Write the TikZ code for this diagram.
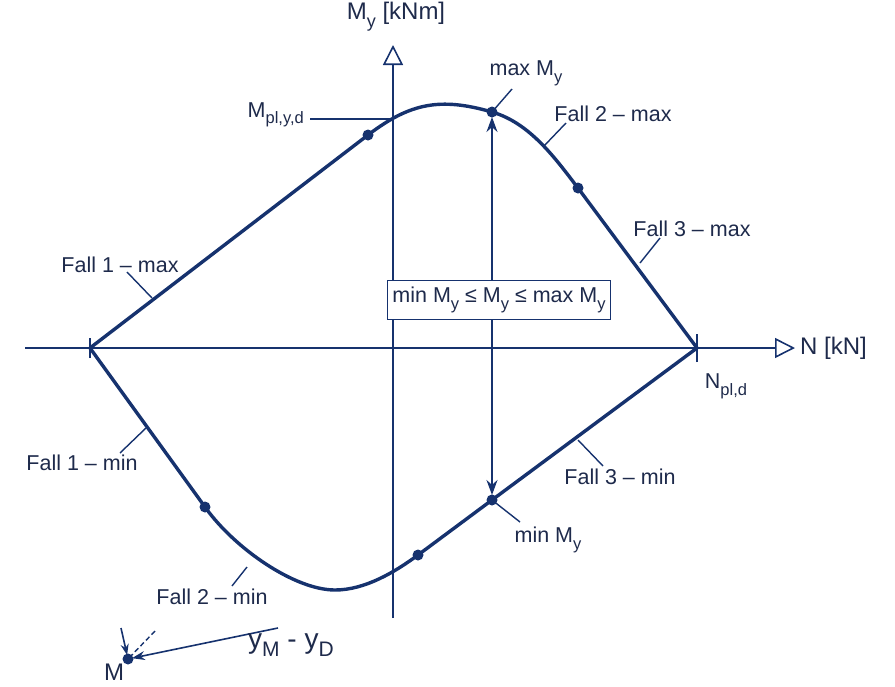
\documentclass[tikz,border=0pt]{standalone}
\usepackage{fontspec}
\setmainfont{Liberation Sans}
\usetikzlibrary{arrows.meta}
\definecolor{navy}{RGB}{22,50,110}
\definecolor{txt}{RGB}{30,42,75}
\newcommand\sbs[1]{\raisebox{-0.3em}{\fontsize{16.5}{16.5}\selectfont #1}}
\newcommand\sba[1]{\raisebox{-0.3em}{\fontsize{18}{18}\selectfont #1}}
\newcommand\sbb[1]{\raisebox{-0.3em}{\fontsize{21}{21}\selectfont #1}}
\begin{document}
\begin{tikzpicture}[x=1pt,y=-1pt,
 lbl/.style={text=txt,font=\fontsize{21.5}{25}\selectfont,inner sep=0pt},
 axlbl/.style={lbl,font=\fontsize{24}{28}\selectfont},
 axis/.style={draw=navy,line width=1.8pt},
 curve/.style={draw=navy,line width=3.4pt,line join=round},
 leader/.style={draw=navy,line width=1.4pt},
 pt/.style={circle,fill=navy,inner sep=0pt,minimum size=11pt},
 opentip/.style={-{Triangle[open,length=20pt,width=20pt,line width=1.6pt]}},
 dtip/.style={{Stealth[length=15pt,width=11pt]}-{Stealth[length=15pt,width=11pt]}},
 ]
\useasboundingbox (0,0) rectangle (895,686);
% key points
\coordinate (L) at (90,348);
\coordinate (R) at (697,348);
\coordinate (c1) at (368,135);
\coordinate (c2) at (492,112);
\coordinate (c3) at (578,188);
\coordinate (c4) at (205,507);
\coordinate (c5) at (418,555);
\coordinate (c6) at (492,500);
% axes
\coordinate (xs) at (25,348);
\coordinate (xe) at (795,348);
\coordinate (ys) at (393,618);
\coordinate (ye) at (393,45);
\draw[axis,opentip] (xs) -- (xe);
\draw[axis,opentip] (ys) -- (ye);
\node[axlbl,anchor=west] (Nlab) at (800,348) {N [kN]};
\node[axlbl,anchor=south] (Mlab) at (396,31) {M\sba{y} [kNm]};
% ticks
\draw[axis] ([yshift=-10pt]L) -- ([yshift=10pt]L);
\draw[axis] ([yshift=-14pt]R) -- ([yshift=14pt]R);
% Mpl line
\coordinate (mp1) at (310,119);
\coordinate (mp2) at (393,119);
\draw[axis,line width=1.5pt] (mp1) -- (mp2);
\node[lbl,anchor=east] (Mpl) at (304,115) {M\sbs{pl,y,d}};
% interaction curve
\draw[curve] (L) -- (c1) .. controls (410,103) and (440,97) .. (c2)
  .. controls (530,123) and (555,158) .. (c3) -- (R) -- (c6) -- (c5)
  .. controls (395,572) and (365,590) .. (335,590)
  .. controls (295,590) and (235,549) .. (c4) -- cycle;
% double arrow
\draw[navy,line width=1.7pt,dtip,shorten <=5pt,shorten >=5pt] (c2) -- (c6);
% box
\node[lbl,draw=navy,fill=white,line width=1.4pt,inner xsep=5pt,inner ysep=7pt] (box) at (499,300)
  {min M\sbs{y} ≤ M\sbs{y} ≤ max M\sbs{y}};
% dots
\foreach \c in {c1,c2,c3,c4,c5,c6} \node[pt] at (\c) {};
% leaders and labels
\coordinate (a1) at (152,298); \coordinate (b1) at (127,272);
\draw[leader] (a1) -- (b1);
\node[lbl,anchor=south] (f1max) at (120,273) {Fall 1 – max};
\coordinate (a2) at (544,146); \coordinate (b2) at (566,123);
\draw[leader] (a2) -- (b2);
\node[lbl,anchor=south] (f2max) at (613,122) {Fall 2 – max};
\coordinate (a3) at (640,263); \coordinate (b3) at (660,238);
\draw[leader] (a3) -- (b3);
\node[lbl,anchor=south] (f3max) at (692,237) {Fall 3 – max};
\coordinate (a4) at (146,428); \coordinate (b4) at (120,453);
\draw[leader] (a4) -- (b4);
\node[lbl,anchor=north] (f1min) at (82,455) {Fall 1 – min};
\coordinate (a5) at (247,567); \coordinate (b5) at (232,586);
\draw[leader] (a5) -- (b5);
\node[lbl,anchor=north] (f2min) at (212,589) {Fall 2 – min};
\coordinate (a6) at (578,440); \coordinate (b6) at (603,466);
\draw[leader] (a6) -- (b6);
\node[lbl,anchor=north] (f3min) at (620,469) {Fall 3 – min};
\coordinate (b7) at (512,89);
\draw[leader] (c2) -- (b7);
\node[lbl,anchor=south] (maxM) at (526,86) {max M\sbs{y}};
\coordinate (b8) at (520,522);
\draw[leader] (c6) -- (b8);
\node[lbl,anchor=north] (minM) at (548,527) {min M\sbs{y}};
\node[lbl,anchor=north] (Npl) at (726,374) {N\sbs{pl,d}};
% bottom-left M point
\coordinate (M) at (128,659);
\coordinate (m1) at (278,628);
\coordinate (m2) at (121,628);
\coordinate (m3) at (155,631);
\draw[navy,line width=1.6pt,-{Stealth[length=13pt,width=9pt]},shorten >=4pt] (m1) -- (M);
\draw[navy,line width=1.6pt,-{Stealth[length=11pt,width=8pt]},shorten >=4pt] (m2) -- (M);
\draw[navy,line width=1.4pt,dash pattern=on 5pt off 3pt,shorten >=5pt] (m3) -- (M);
\node[pt] (Mdot) at (M) {};
\node[lbl,anchor=north,font=\fontsize{24}{28}\selectfont] (Mtxt) at (114,664) {M};
\node[lbl,anchor=west,font=\fontsize{28}{32}\selectfont] (ym) at (248,645) {y\sbb{M} - y\sbb{D}};
\end{tikzpicture}
\end{document}
